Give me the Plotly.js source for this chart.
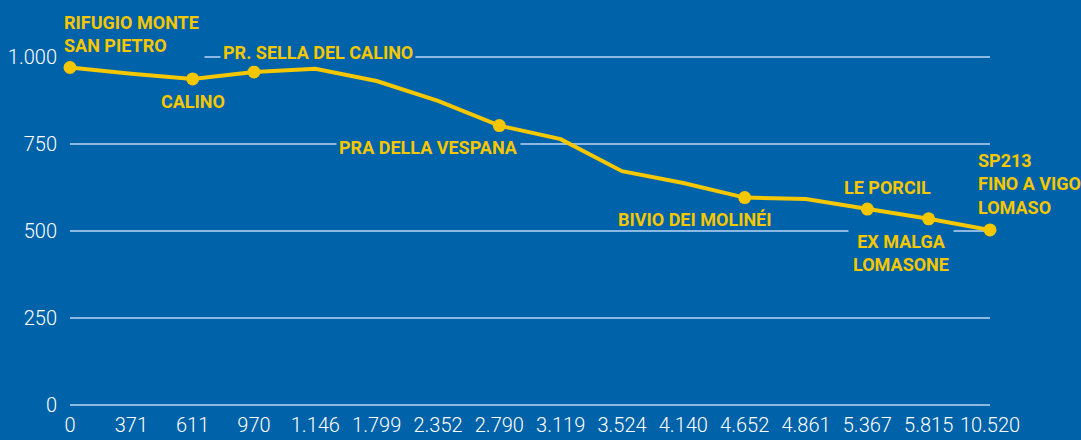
<!DOCTYPE html>
<html>
<head>
<meta charset="utf-8">
<script src="https://cdn.plot.ly/plotly-3.0.1.min.js"></script>
<style>
  html, body { margin: 0; padding: 0; background: #0062A8; }
  #chart { width: 1081px; height: 440px; }
</style>
</head>
<body>
<div id="chart"></div>
<script>
// Distance along the route (m) – category tick labels
const distances = ["0", "371", "611", "970", "1.146", "1.799", "2.352", "2.790", "3.119", "3.524", "4.140", "4.652", "4.861", "5.367", "5.815", "10.520"];
// Altitude (m)
const altitude = [970, 952, 937, 957, 966, 931, 874, 803, 764, 672, 638, 596, 592, 563, 535, 503];
// Place names (empty = no marker)
const places = ["RIFUGIO MONTE<br>SAN PIETRO", "", "CALINO", "PR. SELLA DEL CALINO", "", "", "", "PRA DELLA VESPANA", "", "", "", "BIVIO DEI MOLINÉI", "", "LE PORCIL", "EX MALGA<br>LOMASONE", "SP213<br>FINO A VIGO<br>LOMASO"];
const yTicks = [0, 250, 500, 750, 1000];
const yTickText = ["0", "250", "500", "750", "1.000"];

const BG = "#0062A8";
const YELLOW = "#F5C700";
const GRID = "#8DB8E2";
const LABEL_FONT = "Roboto, Liberation Sans, sans-serif";
const NONE = "rgba(0,0,0,0)";

const trace = {
  type: "scatter",
  mode: "lines+markers",
  x: distances,
  y: altitude,
  line: { color: YELLOW, width: 4 },
  marker: { color: YELLOW, opacity: 1, line: { width: 0 }, size: places.map(p => p ? 13 : 0) },
  cliponaxis: false,
  hoverinfo: "skip"
};

// label placement (style/position only; anchored to data points)
const placement = {
  0:  { xanchor: "left",   xshift: -9,    yshift: 33,   align: "left",   width: 138, height: 46, bgcolor: BG },
  2:  { xanchor: "center", xshift: 0,     yshift: -22.5, align: "center", bgcolor: NONE },
  3:  { xanchor: "center", xshift: 64,    yshift: 19.5, align: "center", bgcolor: BG },
  7:  { xanchor: "center", xshift: -71,   yshift: -21.5, align: "center", bgcolor: BG },
  11: { xanchor: "center", xshift: -50.5, yshift: -22,  align: "center", bgcolor: NONE },
  13: { xanchor: "center", xshift: 20.5,  yshift: 22,   align: "center", bgcolor: NONE },
  14: { xanchor: "center", xshift: -27.5, yshift: -34,  align: "center", width: 100, height: 44, bgcolor: BG },
  15: { xanchor: "left",   xshift: -15,   yshift: 45.5, align: "left", width: 104, bgcolor: NONE }
};

const annotations = [];
places.forEach((p, i) => {
  if (!p) return;
  annotations.push(Object.assign({
    x: i, y: altitude[i], xref: "x", yref: "y",
    text: p, showarrow: false, yanchor: "middle",
    font: { family: LABEL_FONT, size: 18, color: YELLOW, weight: "bold" },
    borderpad: 2
  }, placement[i]));
});

const layout = {
  width: 1081, height: 440,
  paper_bgcolor: BG, plot_bgcolor: BG,
  margin: { l: 70, r: 91, t: 56, b: 34 },
  showlegend: false,
  xaxis: {
    type: "category",
    range: [0, 15],
    showgrid: false, zeroline: false, showline: false,
    ticks: "", tickangle: 0,
    ticklabelstandoff: 5,
    tickfont: { family: "Roboto, sans-serif", size: 20, color: "#FFFFFF", weight: 300 },
    fixedrange: true
  },
  yaxis: {
    range: [-3, 1003],
    tickvals: yTicks,
    ticktext: yTickText,
    showgrid: true, gridcolor: GRID, gridwidth: 1.5,
    zeroline: false, showline: false,
    ticks: "",
    ticklabelstandoff: 12,
    tickfont: { family: "Roboto, sans-serif", size: 20, color: "#FFFFFF", weight: 300 },
    fixedrange: true
  },
  annotations: annotations
};

Plotly.newPlot("chart", [trace], layout, { displayModeBar: false, staticPlot: true });
</script>
</body>
</html>
